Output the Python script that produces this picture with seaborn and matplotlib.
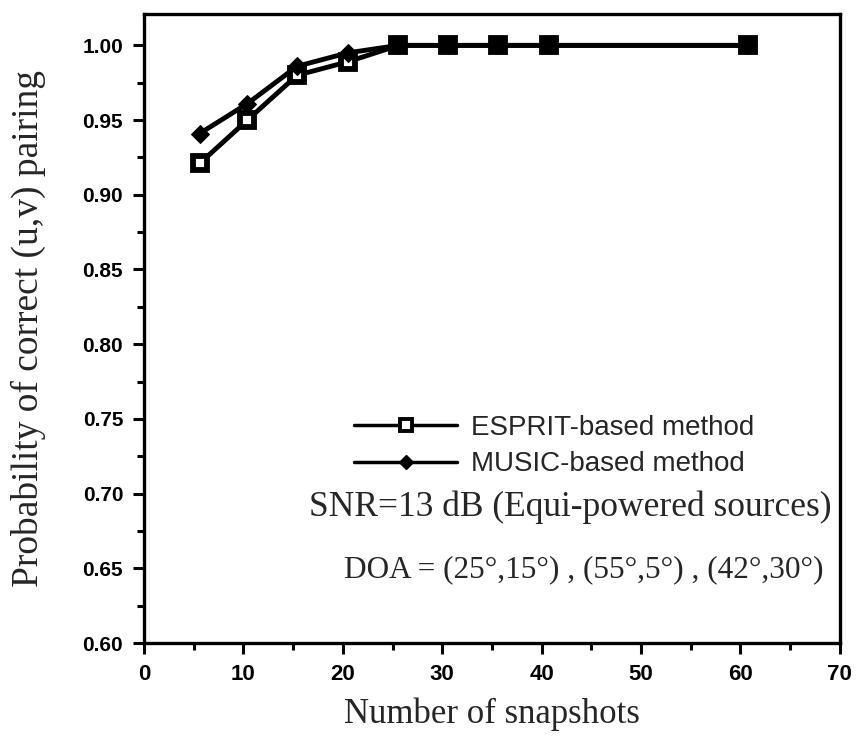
import numpy as np
import pandas as pd
import matplotlib
matplotlib.use("Agg")
import matplotlib.pyplot as plt
import seaborn as sns
from matplotlib.ticker import MultipleLocator
from matplotlib.lines import Line2D

snapshots = [5.6, 10.4, 15.4, 20.5, 25.6, 30.6, 35.6, 40.7, 60.8]
esprit = [0.921, 0.950, 0.980, 0.989, 1.000, 1.000, 1.000, 1.000, 1.000]
music = [0.941, 0.961, 0.986, 0.995, 1.000, 1.000, 1.000, 1.000, 1.000]
series_names = ["ESPRIT-based method", "MUSIC-based method"]
xticks = [0, 10, 20, 30, 40, 50, 60, 70]
yticks = [0.60, 0.65, 0.70, 0.75, 0.80, 0.85, 0.90, 0.95, 1.00]

df = pd.DataFrame({
    "x": snapshots * 2,
    "y": esprit + music,
    "method": [series_names[0]] * len(esprit) + [series_names[1]] * len(music),
})

sns.set_style("ticks")
fig = plt.figure(figsize=(8.57, 7.37), dpi=100)
ax = fig.add_axes([0.168, 0.1275, 0.812, 0.8535])

sns.lineplot(data=df, x="x", y="y", hue="method", style="method",
             palette=["black", "black"], markers={series_names[0]: "s", series_names[1]: "D"},
             dashes=False, linewidth=3.5, markersize=10, ax=ax, legend=False)

lines = ax.get_lines()
lines[0].set_markerfacecolor("white")
lines[0].set_markeredgecolor("black")
lines[0].set_markeredgewidth(4.2)
lines[1].set_markerfacecolor("black")
lines[1].set_markeredgecolor("black")
lines[1].set_markersize(9)

ax.set_xlim(0, 70)
ax.set_ylim(0.60, 1.021)
ax.xaxis.set_minor_locator(MultipleLocator(5))
ax.yaxis.set_minor_locator(MultipleLocator(0.025))
ax.tick_params(axis="both", which="major", length=8, width=2.2, color="black", labelcolor="black")
ax.tick_params(axis="both", which="minor", length=5, width=2.2, color="black")
ax.tick_params(axis="x", which="major", pad=7)
ax.tick_params(axis="y", which="major", pad=7)

xtick_fd = dict(family="Liberation Sans", weight="bold", size=16)
ytick_fd = dict(family="Liberation Sans", weight="bold", size=15)
ax.set_xticks(xticks)
ax.set_yticks(yticks)
ax.set_xticklabels([str(v) for v in xticks], fontdict=xtick_fd)
ax.set_yticklabels([f"{v:.2f}" for v in yticks], fontdict=ytick_fd)

for s in ax.spines.values():
    s.set_linewidth(2.4)
    s.set_color("black")

ax.set_xlabel("Number of snapshots", family="Liberation Serif", fontsize=25, labelpad=9)
ax.set_ylabel("Probability of correct (u,v) pairing", family="Liberation Serif", fontsize=27, labelpad=26)

h1 = Line2D([], [], color="black", linewidth=2.5, marker="s", markersize=8,
            markerfacecolor="white", markeredgecolor="black", markeredgewidth=2.8)
h2 = Line2D([], [], color="black", linewidth=2.5, marker="D", markersize=7,
            markerfacecolor="black", markeredgecolor="black")
leg = ax.legend([h1, h2], series_names, loc="center left", bbox_to_anchor=(0.302, 0.313),
                frameon=False, handlelength=3.7, handletextpad=0.5, labelspacing=0.38,
                borderpad=0, borderaxespad=0,
                prop=dict(family="Liberation Sans", size=20))

ax.text(0.612, 0.216, "SNR=13 dB (Equi-powered sources)", transform=ax.transAxes,
        ha="center", va="center", family="Liberation Serif", fontsize=25.5)
ax.text(0.976, 0.116, "DOA = (25°,15°) , (55°,5°) , (42°,30°)", transform=ax.transAxes,
        ha="right", va="center", family="Liberation Serif", fontsize=22.5)

fig.savefig("out.png", dpi=100)
